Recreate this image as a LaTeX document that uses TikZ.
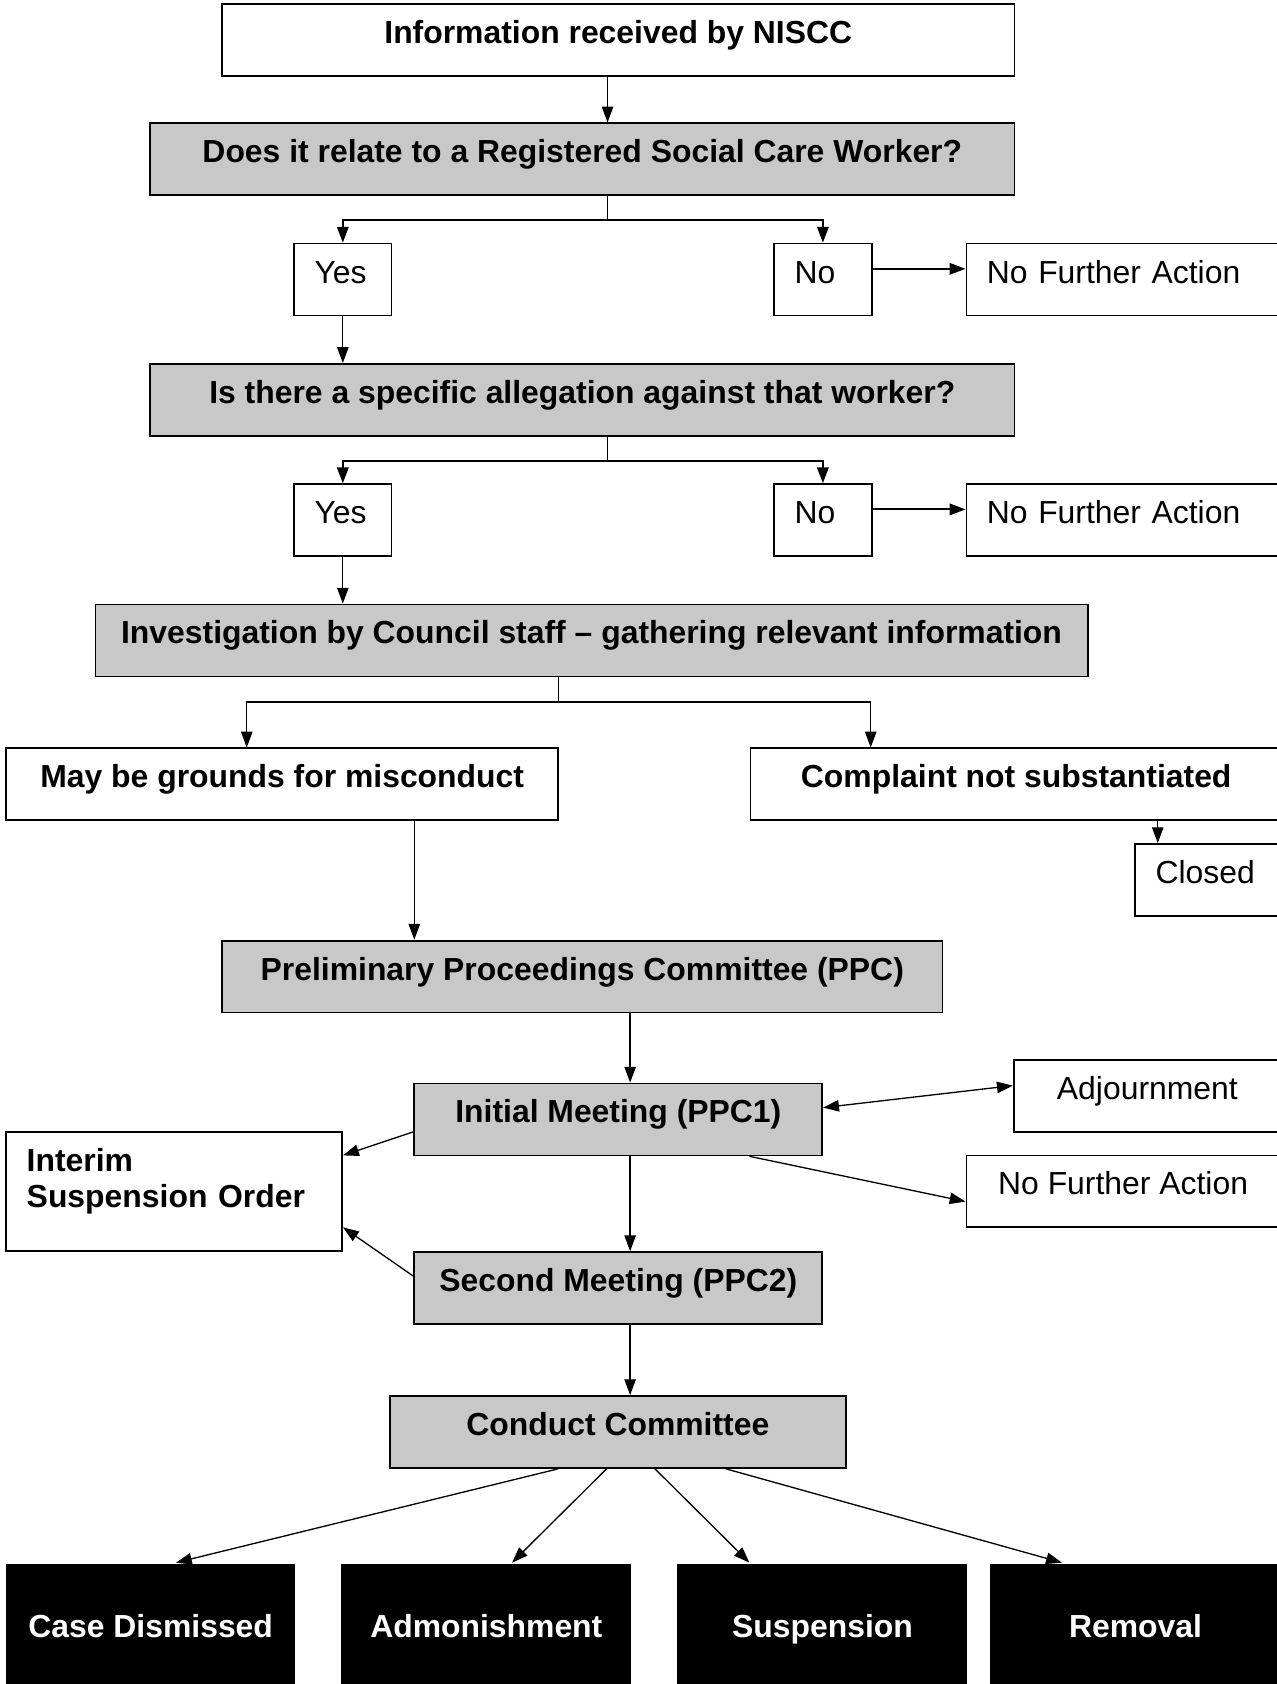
\documentclass[tikz,border=0pt]{standalone}
\usepackage{fontspec}
\setmainfont{Liberation Sans}
\usetikzlibrary{calc,positioning,arrows.meta}

\definecolor{boxgray}{RGB}{200,200,200}
\newcommand\boxfont{\fontsize{18.15}{20.7}\selectfont}

\tikzset{
  box/.style={draw, line width=1pt, anchor=north west, inner ysep=0pt,
    text height=0.79cm, text depth=0.649cm, font=\boxfont\bfseries},
  greybox/.style={box, fill=boxgray},
  plainbox/.style={box, font=\boxfont},
  leftbox/.style={box, font=\boxfont, align=left, inner xsep=0.41cm, text width=#1},
  outcome/.style={box, draw=none, fill=black, text=white,
    text height=1.48cm, text depth=1.31cm},
  flow/.style={line width=0.75pt, -{Triangle[length=9pt,width=6.5pt]}},
  twoway/.style={line width=0.75pt, {Triangle[length=9pt,width=6.5pt]}-{Triangle[length=9pt,width=6.5pt]}},
  branch/.style={flow, line width=1.1pt}
}

\begin{document}
\begin{tikzpicture}[x=0.02148cm, y=-0.02148cm]
\useasboundingbox (0,0) rectangle (1189,1568);
\clip (0,0) rectangle (1189,1568);

%first question
\node[box, minimum width=15.85cm] (info) at (206,3) {Information received by NISCC};
\node[greybox, minimum width=17.29cm] (regq) at (139,114) {Does it relate to a Registered Social Care Worker?};
\node[leftbox=1.13cm] (yesa) at (273,226) {Yes};
\node[leftbox=1.13cm] (noa) at (720,226) {No};
\node[leftbox=6.5cm] (nfaa) at (899,226) {No Further Action};

%second question
\node[greybox, minimum width=17.29cm] (allq) at (139,338) {Is there a specific allegation against that worker?};
\node[leftbox=1.13cm] (yesb) at (273,450) {Yes};
\node[leftbox=1.13cm] (nob) at (720,450) {No};
\node[leftbox=6.5cm] (nfab) at (899,450) {No Further Action};

%investigation
\node[greybox, minimum width=19.85cm] (inv) at (88,562) {Investigation by Council staff – gathering relevant information};
\node[box, minimum width=11.04cm] (mis) at (5,696) {May be grounds for misconduct};
\node[box, minimum width=10.63cm] (comp) at (698,696) {Complaint not substantiated};
\node[leftbox=3.13cm] (closed) at (1056,785) {Closed};

%committee
\node[greybox, minimum width=14.41cm] (ppc) at (206,875) {Preliminary Proceedings Committee (PPC)};
\node[greybox, minimum width=8.16cm] (init) at (385,1008) {Initial Meeting (PPC1)};
\node[plainbox, minimum width=5.35cm] (adj) at (943,986) {Adjournment};
\node[plainbox, minimum width=6.27cm] (nfac) at (899,1075) {No Further Action};
\node[leftbox=5.9cm, font=\boxfont\bfseries, text depth=1.594cm] (iso) at (5,1053) {Interim\\Suspension Order};
\node[greybox, minimum width=8.16cm] (sec) at (385,1165) {Second Meeting (PPC2)};
\node[greybox, minimum width=9.13cm] (cond) at (362,1299) {Conduct Committee};

%outcomes
\node[outcome, minimum width=5.78cm] (cdis) at (5,1455) {Case Dismissed};
\node[outcome, minimum width=5.80cm] (adm) at (317,1455) {Admonishment};
\node[outcome, minimum width=5.80cm] (susp) at (630,1455) {Suspension};
\node[outcome, minimum width=5.82cm] (rem) at (921,1455) {Removal};

%connectors
\draw[flow] ($(info.south)+(-10,0)$) coordinate (s1) -- (s1 |- regq.north);

\coordinate (ja) at ($(regq.south)+(23.5,22.5)$);
\draw[line width=0.75pt] (ja |- regq.south) -- (ja);
\draw[branch] (ja) -| (yesa.north);
\draw[branch] (ja) -| (noa.north);
\draw[branch] ($(noa.east)+(0,-10)$) coordinate (e1) -- (e1 -| nfaa.west);
\draw[flow] (yesa.south) -- (yesa.south |- allq.north);

\coordinate (jb) at ($(allq.south)+(23.5,22.5)$);
\draw[line width=0.75pt] (jb |- allq.south) -- (jb);
\draw[branch] (jb) -| (yesb.north);
\draw[branch] (jb) -| (nob.north);
\draw[branch] ($(nob.east)+(0,-10)$) coordinate (e2) -- (e2 -| nfab.west);
\draw[flow] (yesb.south) -- (yesb.south |- inv.north);

\coordinate (jc) at ($(inv.south)+(-31,23)$);
\draw[line width=0.75pt] (jc |- inv.south) -- (jc);
\draw[flow] (jc) -| ($(mis.north)+(-33,0)$);
\draw[flow] (jc) -| ($(comp.north)+(-135.5,0)$);

\coordinate (cl) at ($(closed.north west)+(22,0)$);
\draw[flow] (cl |- comp.south) -- (cl);
\coordinate (mp) at ($(mis.south)+(123,0)$);
\draw[flow] (mp) -- (mp |- ppc.north);

\coordinate (pc) at ($(init.north)+(11,0)$);
\draw[flow] (pc |- ppc.south) -- (pc);
\draw[twoway] ($(init.east)+(0,-11)$) -- ($(adj.west)+(0,-9.5)$);
\draw[flow] ($(init.south)+(122,0)$) -- ($(nfac.west)+(0,9.5)$);
\draw[flow] ($(init.west)+(0,11.5)$) -- ($(iso.east)+(0,-33.5)$);
\draw[flow] (pc |- init.south) -- (pc |- sec.north);
\draw[flow] ($(sec.west)+(0,-11)$) -- ($(iso.east)+(0,33.5)$);
\draw[flow] (pc |- sec.south) -- (pc |- cond.north);

\foreach \o/\a/\b in {cdis/-55.5/23.5, adm/-10.5/24, susp/34.5/-68, rem/100.5/-68.5}
  \draw[flow] ($(cond.south)+(\a,0)$) -- ($(\o.north)+(\b,0)$);

\end{tikzpicture}
\end{document}
